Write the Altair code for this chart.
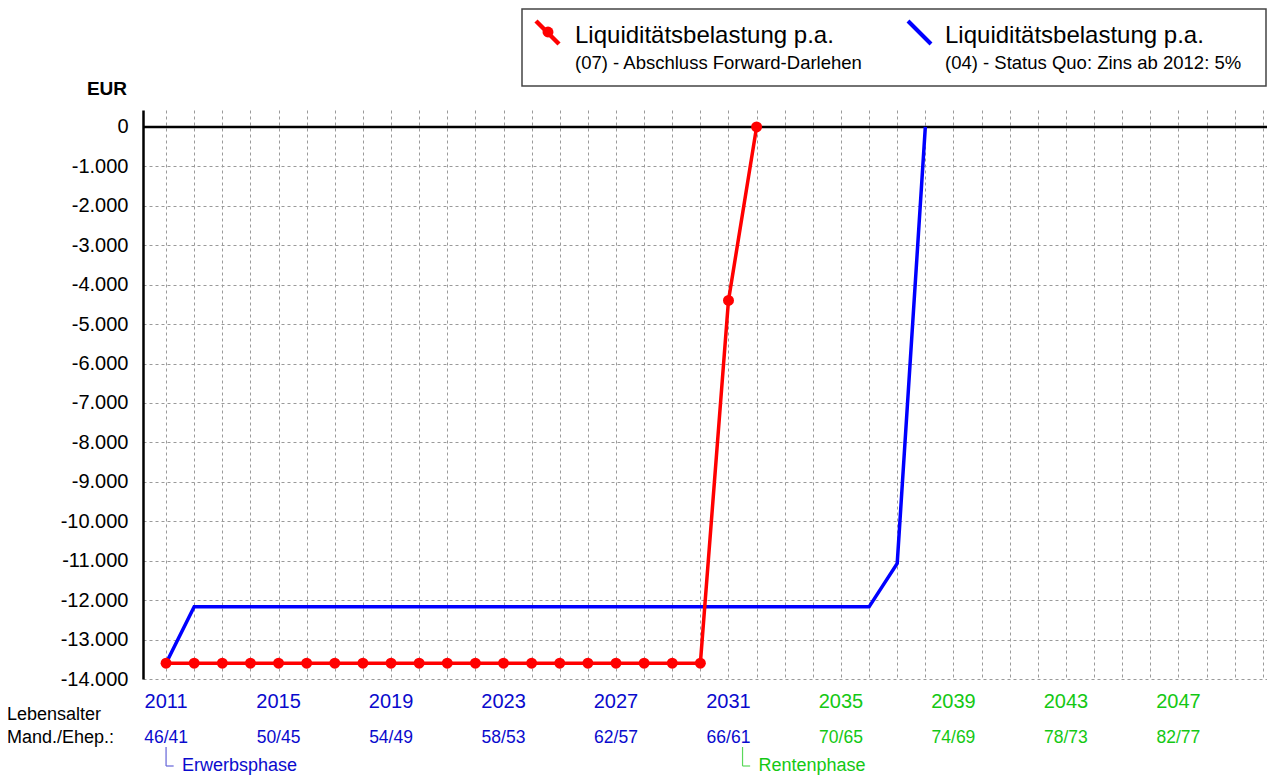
import altair as alt
import pandas as pd

# ---------------- data ----------------
red_years = [2011, 2012, 2013, 2014, 2015, 2016, 2017, 2018, 2019, 2020, 2021,
             2022, 2023, 2024, 2025, 2026, 2027, 2028, 2029, 2030, 2031, 2032]
red_values = [-13600, -13600, -13600, -13600, -13600, -13600, -13600, -13600,
              -13600, -13600, -13600, -13600, -13600, -13600, -13600, -13600,
              -13600, -13600, -13600, -13600, -4400, 0]

blue_years = [2011, 2012, 2013, 2014, 2015, 2016, 2017, 2018, 2019, 2020, 2021,
              2022, 2023, 2024, 2025, 2026, 2027, 2028, 2029, 2030, 2031, 2032,
              2033, 2034, 2035, 2036, 2037, 2038]
blue_values = [-13600, -12170, -12170, -12170, -12170, -12170, -12170, -12170,
               -12170, -12170, -12170, -12170, -12170, -12170, -12170, -12170,
               -12170, -12170, -12170, -12170, -12170, -12170, -12170, -12170,
               -12170, -12170, -11070, 0]

grid_years = list(range(2011, 2051))
y_ticks = list(range(-14000, 1, 1000))

label_years = [2011, 2015, 2019, 2023, 2027, 2031, 2035, 2039, 2043, 2047]
year_labels = ["2011", "2015", "2019", "2023", "2027", "2031", "2035", "2039", "2043", "2047"]
age_labels = ["46/41", "50/45", "54/49", "58/53", "62/57", "66/61", "70/65", "74/69", "78/73", "82/77"]

phase_years = [2011, 2031.5]
phase_names = ["Erwerbsphase", "Rentenphase"]

legend_title = "Liquiditätsbelastung p.a."
legend_red_sub = "(07) - Abschluss Forward-Darlehen"
legend_blue_sub = "(04) - Status Quo: Zins ab 2012: 5%"

# ---------------- style ----------------
F = "Liberation Sans, Arial, Helvetica, sans-serif"
BLUE_T = "#0a0acd"
GREEN_T = "#14c814"
W, H = 1124, 569

red_df = pd.DataFrame({"year": red_years, "value": red_values})
blue_df = pd.DataFrame({"year": blue_years, "value": blue_values})
zero_df = pd.DataFrame({"value": [0]})
lab_df = pd.DataFrame({"year": label_years, "label": year_labels, "age": age_labels})
phase_df = pd.DataFrame({"year": phase_years, "name": phase_names})
one = pd.DataFrame({"a": [0]})

xs = alt.Scale(domain=[2010.18, 2050.15], nice=False, zero=False)
ys = alt.Scale(domain=[-14000, 430], nice=False, zero=False)

xaxis = alt.Axis(values=grid_years, labels=False, ticks=False, domain=False,
                 grid=True, gridColor="#9a9a9a", gridDash=[3, 3], gridWidth=1,
                 title=None)
yaxis = alt.Axis(values=y_ticks, grid=True, gridColor="#9a9a9a", gridDash=[3, 3],
                 gridWidth=1, ticks=False, domain=True, domainColor="black",
                 domainWidth=2.5, labelFont=F, labelFontSize=20, labelColor="black",
                 labelPadding=15, labelBaseline="middle",
                 labelExpr="datum.value == 0 ? '0' : '-' + replace(format(-datum.value, ','), ',', '.')",
                 title=None)

X = alt.X("year:Q", scale=xs, axis=xaxis)
Y = alt.Y("value:Q", scale=ys, axis=yaxis)

zero_line = alt.Chart(zero_df).mark_rule(color="black", strokeWidth=2.5).encode(y=Y)

blue_line = alt.Chart(blue_df).mark_line(color="#0000ff", strokeWidth=3.5).encode(x=X, y=Y)
red_line = alt.Chart(red_df).mark_line(color="#ff0000", strokeWidth=3.5).encode(x=X, y=Y)
red_pts = alt.Chart(red_df).mark_circle(color="#ff0000", size=120, opacity=1).encode(x=X, y=Y)

# bottom label rows
col_cond = alt.condition("datum.year <= 2031", alt.value(BLUE_T), alt.value(GREEN_T))
year_txt = alt.Chart(lab_df).mark_text(font=F, fontSize=20, baseline="alphabetic").encode(
    x=X, y=alt.value(H + 29), text="label:N", color=col_cond)
age_txt = alt.Chart(lab_df).mark_text(font=F, fontSize=17.5, baseline="alphabetic").encode(
    x=X, y=alt.value(H + 64), text="age:N", color=col_cond)

left1 = alt.Chart(one).mark_text(text="Lebensalter", font=F, fontSize=18, align="left",
                                 baseline="alphabetic", color="black").encode(
    x=alt.value(-136), y=alt.value(H + 41))
left2 = alt.Chart(one).mark_text(text="Mand./Ehep.:", font=F, fontSize=18, align="left",
                                 baseline="alphabetic", color="black").encode(
    x=alt.value(-136), y=alt.value(H + 64))

br_cond = alt.condition("datum.year < 2020", alt.value("#6464d8"), alt.value("#5ad85a"))
ph_cond = alt.condition("datum.year < 2020", alt.value(BLUE_T), alt.value(GREEN_T))
br_v = alt.Chart(phase_df).mark_rule(strokeWidth=1.2).encode(
    x=X, y=alt.value(H + 68), y2=alt.value(H + 87), color=br_cond)
br_h = alt.Chart(phase_df).transform_calculate(year_end="datum.year + 0.27").mark_rule(
    strokeWidth=1.2).encode(x=X, x2="year_end:Q", y=alt.value(H + 87), color=br_cond)
ph_txt = alt.Chart(phase_df).mark_text(font=F, fontSize=18, align="left", dx=16,
                                       baseline="alphabetic").encode(
    x=X, y=alt.value(H + 92), text="name:N", color=ph_cond)

# axis title
eur = alt.Chart(one).mark_text(text="EUR", font=F, fontSize=19, fontWeight="bold",
                               align="right", baseline="alphabetic", color="black").encode(
    x=alt.value(-16), y=alt.value(-15))

# legend (drawn)
leg_box = alt.Chart(one).mark_rect(fill="white", stroke="#444444", strokeWidth=1.5).encode(
    x=alt.value(379), x2=alt.value(1123), y=alt.value(-101), y2=alt.value(-24))
leg_red_l = alt.Chart(one).mark_rule(color="#ff0000", strokeWidth=4.5).encode(
    x=alt.value(393), x2=alt.value(416), y=alt.value(-89), y2=alt.value(-66))
leg_red_p = alt.Chart(one).mark_circle(color="#ff0000", size=120, opacity=1).encode(
    x=alt.value(405), y=alt.value(-78))
leg_blue_l = alt.Chart(one).mark_rule(color="#0000ff", strokeWidth=4).encode(
    x=alt.value(765), x2=alt.value(788), y=alt.value(-89), y2=alt.value(-66))

def ltext(txt, x, y, size):
    return alt.Chart(one).mark_text(text=txt, font=F, fontSize=size, align="left",
                                    baseline="alphabetic", color="black").encode(
        x=alt.value(x), y=alt.value(y))

leg_t1 = ltext(legend_title, 432, -67, 24)
leg_t2 = ltext(legend_red_sub, 432, -41, 18.5)
leg_t3 = ltext(legend_title, 802, -67, 24)
leg_t4 = ltext(legend_blue_sub, 802, -41, 18.5)

chart = alt.layer(
    zero_line, blue_line, red_line, red_pts,
    year_txt, age_txt, left1, left2, br_v, br_h, ph_txt, eur,
    leg_box, leg_red_l, leg_red_p, leg_blue_l, leg_t1, leg_t2, leg_t3, leg_t4,
).properties(
    width=W, height=H,
    padding={"left": 135, "top": 102, "right": 0, "bottom": 98},
    autosize=alt.AutoSizeParams(type="none"),
    background="white",
).configure_view(stroke=None)

chart.save("out.html", embed_options={"renderer": "svg", "actions": False})
